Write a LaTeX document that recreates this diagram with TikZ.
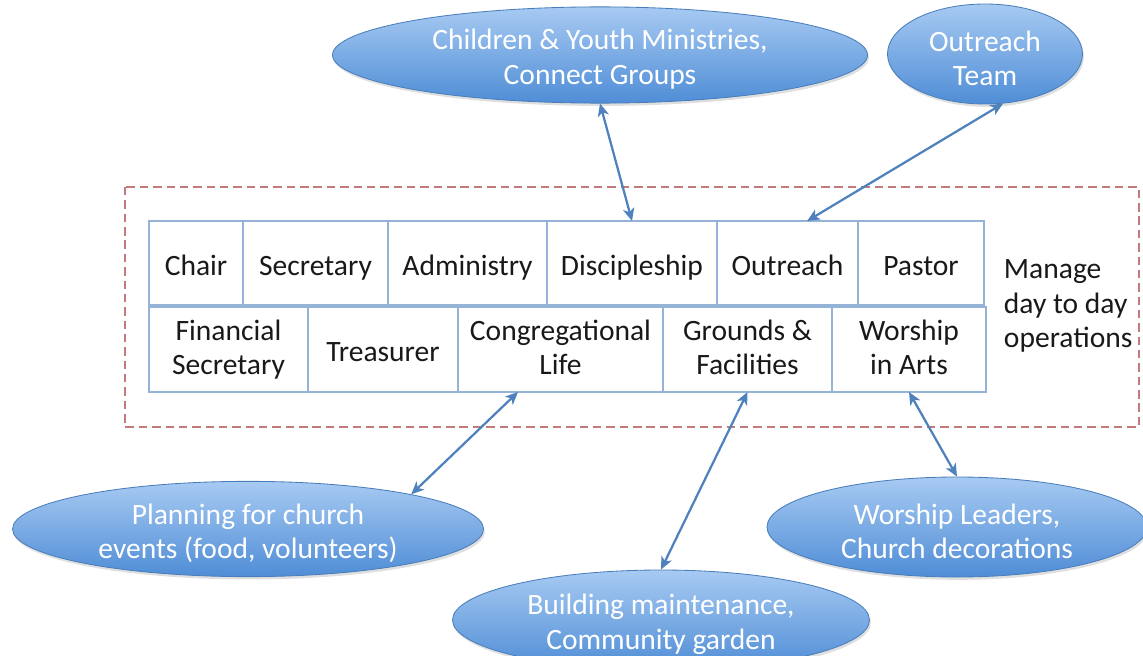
\documentclass[tikz,border=0pt]{standalone}
\usepackage{fontspec}
\setmainfont{Carlito}
\usetikzlibrary{shapes.geometric}
\usetikzlibrary{positioning}
\usetikzlibrary{arrows.meta}
\usetikzlibrary{shadows}

\definecolor{boxline}{HTML}{95B3D7}
\definecolor{linkblue}{HTML}{4F81BD}
\definecolor{ovaltop}{HTML}{A7CAF2}
\definecolor{ovalbottom}{HTML}{4F8DD6}
\definecolor{ovalline}{HTML}{4A7EBB}
\definecolor{framered}{HTML}{C27A7C}

% one pixel of the layout grid
\def\px{0.025cm}
% even text height in every box
\newcommand{\tophold}{\rule{0pt}{20.5pt}}
\newcommand{\lowhold}{\rule[-3pt]{0pt}{3pt}}

\begin{document}
\begin{tikzpicture}[x=\px, y=-\px, font=\fontsize{21}{24.5}\selectfont,
  role/.style={draw=boxline, line width=1pt, fill=white, align=center, inner sep=0pt, outer sep=0pt, text=black!90,
    execute at begin node=\tophold, execute at end node=\lowhold,
    drop shadow={opacity=0.2, shadow xshift=0.8pt, shadow yshift=-0.8pt}},
  toprole/.style={role, minimum height=84*\px},
  lowrole/.style={role, minimum height=85*\px},
  group/.style={ellipse, draw=ovalline, line width=0.6pt, top color=ovaltop, bottom color=ovalbottom,
    text=white, align=center, inner sep=0pt,
    drop shadow={opacity=0.25, shadow xshift=1pt, shadow yshift=-2pt}},
  link/.style={draw=linkblue, line width=1.6pt,
    {Stealth[length=9pt,width=8pt,inset=2.5pt]}-{Stealth[length=9pt,width=8pt,inset=2.5pt]}}]

        \useasboundingbox (0,0) rectangle (1143,656);

        % Dashed frame round the council
        \draw[framered, line width=0.8pt, dash pattern=on 6pt off 3.5pt] (125,187) rectangle (1139,427);

        % Top row of roles
        \node[toprole, minimum width=94*\px] (chair) at (196,263) {Chair};
        \node[toprole, minimum width=145*\px, right=0pt of chair] (secr) {Secretary};
        \node[toprole, minimum width=159*\px, right=0pt of secr] (admin) {Administry};
        \node[toprole, minimum width=170*\px, right=0pt of admin] (disc) {Discipleship};
        \node[toprole, minimum width=141*\px, right=0pt of disc] (outr) {Outreach};
        \node[toprole, minimum width=126*\px, right=0pt of outr] (past) {Pastor};

        % Bottom row of roles
        \node[lowrole, minimum width=159*\px] (fin) at (228.5,349.5) {Financial\\Secretary};
        \node[lowrole, minimum width=150*\px, right=0pt of fin] (treas) {Treasurer};
        \node[lowrole, minimum width=205*\px, right=0pt of treas] (cong) {Congregational\\Life};
        \node[lowrole, minimum width=169*\px, right=0pt of cong] (grnd) {Grounds \&\\Facilities};
        \node[lowrole, minimum width=154*\px, right=0pt of grnd] (arts) {Worship\\in Arts};

        \node[anchor=west, align=left, text=black!90] (note) at (999,306) {Manage\\day to day\\operations};

        % Ministry groups
        \node[group, minimum width=535*\px, minimum height=95*\px] (kids) at (600,55) {\tophold Children \& Youth Ministries,\\Connect Groups};
        \node[group, minimum width=195*\px, minimum height=100*\px] (otm) at (985,54) {\tophold Outreach\\Team};
        \node[group, minimum width=471*\px, minimum height=88*\px] (plan) at (248,529) {\tophold Planning for church\\events (food, volunteers)};
        \node[group, minimum width=417*\px, minimum height=100*\px] (build) at (661,620) {\tophold Building maintenance,\\Community garden};
        \node[group, minimum width=380*\px, minimum height=100*\px] (lead) at (957,527) {\tophold Worship Leaders,\\Church decorations};

        % Links between roles and groups
        \draw[link] (disc.north) -- (kids.south);
        \draw[link] (outr.65) -- (otm.-70);
        \draw[link] (cong.-135) -- (plan.12);
        \draw[link] (grnd.south) -- (build.north);
        \draw[link] (arts.south) -- (lead.north);
      \end{tikzpicture}
\end{document}
